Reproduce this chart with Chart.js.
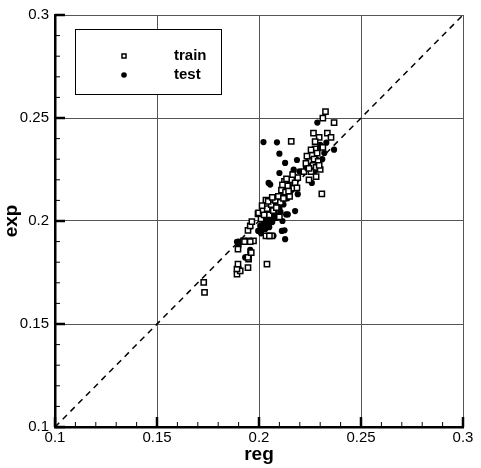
<!DOCTYPE html>
<html lang="en">
<head>
	<meta charset="UTF-8">
	<title>reg vs exp</title>
	<script src="https://cdn.jsdelivr.net/npm/chart.js"></script>
	<style>
		body { margin: 0; padding: 0; background: #fff; }
		#wrap { width: 481px; height: 468px; }
	</style>
</head>
<body>
	<div id="wrap"><canvas id="parity"></canvas></div>
	<script>
		// Axis ticks
		const tickValues = [0.1, 0.15, 0.2, 0.25, 0.3];
		const tickLabels = ['0.1', '0.15', '0.2', '0.25', '0.3'];

		// Training set: [reg, exp]
		const trainPts = [
			[0.1729, 0.1702], [0.1733, 0.1654],
			[0.1892, 0.1742], [0.1908, 0.1758], [0.1892, 0.1767], [0.1897, 0.1791], [0.1946, 0.1774],
			[0.1949, 0.1815], [0.1946, 0.1823], [0.1962, 0.1847], [0.1897, 0.1863],
			[0.1924, 0.1903], [0.1949, 0.1903], [0.1973, 0.1903], [0.1929, 0.1900], [0.1957, 0.1900],
			[0.2039, 0.1791],
			[0.1946, 0.1955], [0.1957, 0.1976], [0.1965, 0.1997], [0.1995, 0.2035], [0.1998, 0.2040],
			[0.2034, 0.2101], [0.2034, 0.1928], [0.2063, 0.1928], [0.2051, 0.1928],
			[0.2010, 0.2010], [0.2020, 0.2050], [0.2040, 0.2060], [0.2050, 0.2030], [0.2060, 0.2080],
			[0.2070, 0.2050], [0.2080, 0.2100], [0.2090, 0.2070], [0.2095, 0.2120], [0.2100, 0.2020],
			[0.2105, 0.2090], [0.2110, 0.2150], [0.2120, 0.2110], [0.2125, 0.2193], [0.2130, 0.2140],
			[0.2140, 0.2170], [0.2150, 0.2120], [0.2158, 0.2386], [0.2160, 0.2200], [0.2170, 0.2160],
			[0.2177, 0.2185], [0.2186, 0.2161], [0.2190, 0.2210],
			[0.2220, 0.2240], [0.2240, 0.2260], [0.2250, 0.2290], [0.2255, 0.2240], [0.2260, 0.2320],
			[0.2265, 0.2270], [0.2270, 0.2300], [0.2275, 0.2350], [0.2280, 0.2260], [0.2285, 0.2330],
			[0.2290, 0.2290], [0.2267, 0.2427], [0.2295, 0.2406], [0.2313, 0.2357], [0.2313, 0.2499],
			[0.2326, 0.2531], [0.2335, 0.2427], [0.2353, 0.2406], [0.2368, 0.2478], [0.2308, 0.2132],
			[0.2300, 0.2250], [0.2245, 0.2200], [0.2230, 0.2280],
			[0.2015, 0.2075], [0.2045, 0.2095], [0.2065, 0.2115], [0.2085, 0.2065], [0.2115, 0.2175],
			[0.2135, 0.2205], [0.2145, 0.2145], [0.2165, 0.2225], [0.2235, 0.2315], [0.2255, 0.2345],
			[0.2275, 0.2385], [0.2280, 0.2215], [0.2295, 0.2270], [0.2245, 0.2255], [0.2025, 0.2030]
		];

		// Test set: [reg, exp]
		const testPts = [
			[0.2022, 0.2383], [0.2088, 0.2382], [0.2100, 0.2327], [0.2286, 0.2478], [0.2368, 0.2346],
			[0.2128, 0.2282], [0.2186, 0.2296], [0.2100, 0.2233], [0.2166, 0.2233], [0.2198, 0.2241],
			[0.2055, 0.2177], [0.2259, 0.2185], [0.2177, 0.2048], [0.2133, 0.2032], [0.2115, 0.2000],
			[0.2125, 0.1955], [0.2128, 0.1912], [0.2071, 0.1928], [0.1900, 0.1900], [0.1957, 0.1860],
			[0.1996, 0.1952], [0.2006, 0.1976], [0.2079, 0.2082], [0.2112, 0.1952], [0.2141, 0.2032],
			[0.1892, 0.1899], [0.1900, 0.1879], [0.1957, 0.1847], [0.1932, 0.1823], [0.1900, 0.1774],
			[0.2047, 0.2185],
			[0.2020, 0.2000], [0.2030, 0.2020], [0.2040, 0.1990], [0.2050, 0.2040], [0.2060, 0.2010],
			[0.2070, 0.2070], [0.2080, 0.2030], [0.2090, 0.2100], [0.2100, 0.2060], [0.2110, 0.2130],
			[0.2120, 0.2080], [0.2130, 0.2160], [0.2140, 0.2110], [0.2150, 0.2200], [0.2160, 0.2150],
			[0.2170, 0.2250], [0.2180, 0.2200], [0.2190, 0.2130], [0.2240, 0.2290], [0.2260, 0.2300],
			[0.2270, 0.2240], [0.2290, 0.2350], [0.2310, 0.2300], [0.2330, 0.2380], [0.2030, 0.1960],
			[0.2010, 0.1940], [0.2050, 0.1970],
			[0.2035, 0.2005], [0.2045, 0.1975], [0.2055, 0.2025], [0.2065, 0.1995], [0.2075, 0.2045],
			[0.2085, 0.2015], [0.2095, 0.2085], [0.2105, 0.2045], [0.2115, 0.2100], [0.2125, 0.2125],
			[0.2135, 0.2180], [0.2155, 0.2165], [0.2165, 0.2195], [0.2175, 0.2215], [0.2230, 0.2260],
			[0.2250, 0.2270], [0.2265, 0.2320], [0.2280, 0.2300], [0.2300, 0.2370], [0.2320, 0.2330],
			[0.2015, 0.1965], [0.2025, 0.1985]
		];

		// y = x reference line
		const diagonal = [[0.1, 0.1], [0.3, 0.3]];

		const toXY = arr => arr.map(p => ({x: p[0], y: p[1]}));
		const FONT = 'Liberation Sans, Arial, sans-serif';

		// Inward major/minor tick marks on left and bottom axes
		const innerTicks = {
			id: 'innerTicks',
			afterDraw(chart) {
				const ctx = chart.ctx;
				const xs = chart.scales.x, ys = chart.scales.y;
				const left = chart.chartArea.left, bottom = chart.chartArea.bottom;
				ctx.save();
				ctx.strokeStyle = '#000';
				for (let i = 0; i <= 20; i++) {
					const v = 0.1 + i * 0.01;
					const major = i % 5 === 0;
					const len = major ? 10 : 5;
					ctx.lineWidth = major ? 2.5 : 1;
					const px = xs.getPixelForValue(v);
					ctx.beginPath();
					ctx.moveTo(px, bottom);
					ctx.lineTo(px, bottom - len);
					ctx.stroke();
					const py = ys.getPixelForValue(v);
					ctx.beginPath();
					ctx.moveTo(left, py);
					ctx.lineTo(left + len, py);
					ctx.stroke();
				}
				ctx.restore();
			}
		};

		// Boxed legend in the upper-left corner
		const boxLegend = {
			id: 'boxLegend',
			afterDraw(chart) {
				const ctx = chart.ctx;
				ctx.save();
				ctx.fillStyle = '#fff';
				ctx.fillRect(75, 29, 146, 65);
				ctx.strokeStyle = '#000';
				ctx.lineWidth = 1;
				ctx.strokeRect(75.5, 29.5, 146, 65);
				ctx.lineWidth = 1.5;
				ctx.strokeRect(122, 54, 4, 4);
				ctx.beginPath();
				ctx.arc(124, 75, 2.8, 0, Math.PI * 2);
				ctx.fillStyle = '#000';
				ctx.fill();
				ctx.font = 'bold 15px ' + FONT;
				ctx.textBaseline = 'middle';
				ctx.textAlign = 'left';
				ctx.fillText(chart.data.datasets[0].label, 174, 56);
				ctx.fillText(chart.data.datasets[1].label, 174, 75);
				ctx.restore();
			}
		};

		const tickCb = function (value) {
			const idx = tickValues.findIndex(t => Math.abs(t - value) < 1e-6);
			return idx >= 0 ? tickLabels[idx] : '';
		};

		new Chart(document.getElementById('parity'), {
			type: 'scatter',
			data: {
				datasets: [{
					label: 'train',
					data: toXY(trainPts),
					pointStyle: 'rect',
					pointRadius: 3.7,
					borderColor: '#000',
					borderWidth: 1.5,
					backgroundColor: '#fff'
				}, {
					label: 'test',
					data: toXY(testPts),
					pointStyle: 'circle',
					pointRadius: 3.1,
					borderWidth: 0,
					backgroundColor: '#000'
				}, {
					label: 'y=x',
					type: 'line',
					data: toXY(diagonal),
					borderColor: '#000',
					borderWidth: 1.5,
					borderDash: [6, 5],
					pointRadius: 0,
					fill: false
				}]
			},
			options: {
				responsive: true,
				maintainAspectRatio: false,
				animation: false,
				layout: {padding: {top: 13, right: 18, left: 0, bottom: 0}},
				plugins: {legend: {display: false}, tooltip: {enabled: false}},
				scales: {
					x: {
						type: 'linear', min: 0.1, max: 0.3,
						afterBuildTicks: s => { s.ticks = tickValues.map(v => ({value: v})); },
						afterFit: s => { s.height = 41; },
						ticks: {color: '#000', font: {family: FONT, size: 15}, padding: 2, callback: tickCb, maxRotation: 0},
						grid: {color: '#555', lineWidth: 1, drawTicks: false},
						border: {color: '#000', width: 2.5},
						title: {display: true, text: 'reg', color: '#000', font: {family: FONT, size: 19, weight: 'bold'}, padding: {top: 0, bottom: 2}}
					},
					y: {
						type: 'linear', min: 0.1, max: 0.3,
						afterBuildTicks: s => { s.ticks = tickValues.map(v => ({value: v})); },
						afterFit: s => { s.width = 55; },
						ticks: {color: '#000', font: {family: FONT, size: 15}, padding: 6, callback: tickCb},
						grid: {color: '#555', lineWidth: 1, drawTicks: false},
						border: {color: '#000', width: 2.5},
						title: {display: true, text: 'exp', color: '#000', font: {family: FONT, size: 19, weight: 'bold'}, padding: {top: 0, bottom: 0}}
					}
				}
			},
			plugins: [innerTicks, boxLegend]
		});
	</script>
</body>
</html>
